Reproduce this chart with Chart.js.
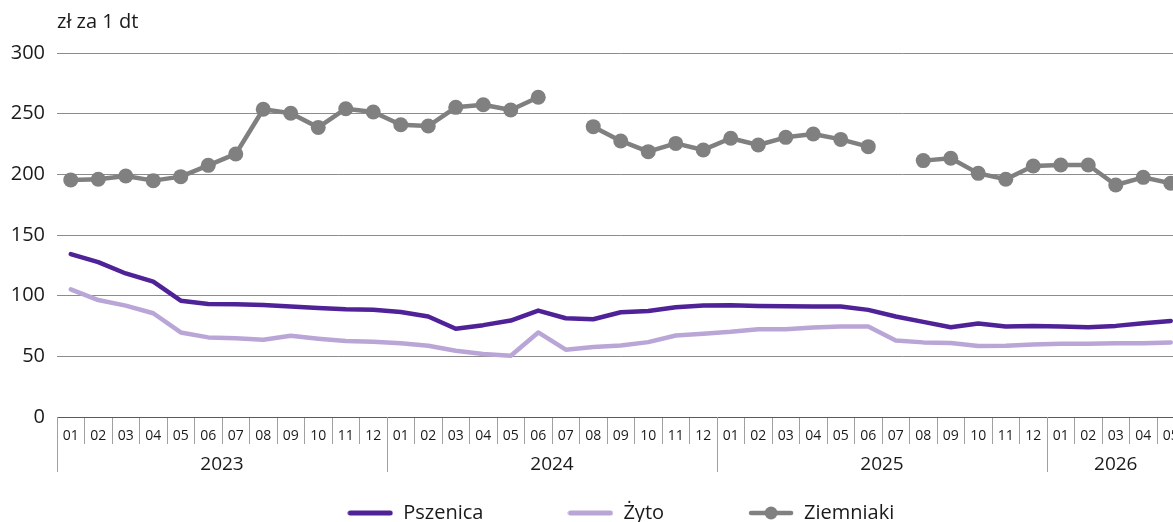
<!DOCTYPE html>
<html><head><meta charset="utf-8">
<script src="https://cdn.jsdelivr.net/npm/chart.js@4.4.1/dist/chart.umd.min.js"></script>
<style>
html,body{margin:0;padding:0;background:#fff;overflow:hidden;width:1173px;height:522px}
#wrap{position:relative;width:1240px;height:522px}
canvas{display:block}
</style></head>
<body><div id="wrap"><canvas id="c" width="1240" height="522"></canvas></div>
<script>
// ---- data ----
const yearLabels = ['2023', '2024', '2025', '2026'];
const monthLabels = [
  '01','02','03','04','05','06','07','08','09','10','11','12',
  '01','02','03','04','05','06','07','08','09','10','11','12',
  '01','02','03','04','05','06','07','08','09','10','11','12',
  '01','02','03','04','05'
];
const monthsPerYear = [12, 12, 12, 5];
const pszenica = [
  134.2,127.6,118.3,111.5,95.9,93.2,92.9,92.3,91.0,89.9,88.8,88.3,
  86.6,82.8,72.7,75.7,79.5,87.7,81.4,80.6,86.3,87.4,90.4,91.8,
  92.1,91.5,91.3,91.0,91.0,88.3,82.8,78.4,74.0,77.0,74.6,75.1,
  74.6,74.0,75.1,77.3,79.2
];
const zyto = [
  105.2,96.4,91.8,85.5,69.7,65.6,65.0,63.7,66.9,64.5,62.6,62.0,
  60.7,58.7,54.6,51.9,50.5,69.7,55.5,57.7,59.0,61.7,67.2,68.6,
  70.2,72.4,72.4,73.8,74.6,74.6,63.1,61.5,60.9,58.5,58.7,59.8,
  60.4,60.4,60.7,60.7,61.5
];
const ziemniaki = [
  195.4,195.9,198.6,194.8,198.1,207.4,216.8,253.6,250.3,238.7,254.1,251.4,
  240.9,239.8,255.2,257.4,253.0,263.5,null,239.3,227.5,218.7,225.5,220.1,
  229.7,224.2,230.5,233.2,228.8,222.8,null,211.3,213.2,200.8,195.9,206.9,
  207.7,207.7,191.2,197.5,192.6
];
const seriesNames = ['Pszenica', 'Żyto', 'Ziemniaki'];
const unitLabel = 'zł za 1 dt';

// ---- styles ----
const FONT = '"Open Sans", "Noto Sans", sans-serif';
const TXT = '#1a1a1a';
const colors = ['#4f2297', '#b9a6d7', '#808080'];

function legendImg(color, withDot) {
  const c = document.createElement('canvas');
  c.width = 46; c.height = 16;
  const g = c.getContext('2d');
  g.strokeStyle = color; g.lineWidth = withDot ? 4.5 : 5; g.lineCap = 'round';
  g.beginPath(); g.moveTo(3, 8); g.lineTo(43, 8); g.stroke();
  if (withDot) { g.fillStyle = color; g.beginPath(); g.arc(23, 8, 6.5, 0, Math.PI * 2); g.fill(); }
  return c;
}
const legendImgs = [legendImg(colors[0], false), legendImg(colors[1], false), legendImg(colors[2], true)];

const categoryAxisPlugin = {
  id: 'categoryAxis',
  afterDraw(chart) {
    const x = chart.scales.x, ctx = chart.ctx;
    const half = (x.getPixelForValue(1) - x.getPixelForValue(0)) / 2;
    const top = chart.chartArea.bottom;
    ctx.save();
    ctx.fillStyle = TXT;
    ctx.textAlign = 'center'; ctx.textBaseline = 'middle';
    // month labels
    ctx.font = '14px ' + FONT;
    monthLabels.forEach((m, i) => {
      ctx.fillText(m, x.getPixelForValue(i), top + 19);
    });
    // year separators and labels
    let idx = 0;
    ctx.strokeStyle = '#a0a0a0'; ctx.lineWidth = 1;
    ctx.font = '19px ' + FONT;
    yearLabels.forEach((yl, i) => {
      const n = monthsPerYear[i];
      const left = x.getPixelForValue(idx) - half;
      const right = x.getPixelForValue(idx + n - 1) + half;
      const lx = Math.round(left) + 0.5;
      ctx.beginPath(); ctx.moveTo(lx, top); ctx.lineTo(lx, top + 55); ctx.stroke();
      ctx.fillText(yl, (left + right) / 2, top + 48);
      idx += n;
    });
    ctx.restore();
  }
};

new Chart(document.getElementById('c'), {
  type: 'line',
  data: {
    labels: monthLabels,
    datasets: [
      { label: seriesNames[0], data: pszenica, borderColor: colors[0], backgroundColor: colors[0],
        borderWidth: 4.5, pointRadius: 0, pointHoverRadius: 0, borderJoinStyle: 'round', borderCapStyle: 'round' },
      { label: seriesNames[1], data: zyto, borderColor: colors[1], backgroundColor: colors[1],
        borderWidth: 4.5, pointRadius: 0, pointHoverRadius: 0, borderJoinStyle: 'round', borderCapStyle: 'round' },
      { label: seriesNames[2], data: ziemniaki, borderColor: colors[2], backgroundColor: colors[2],
        borderWidth: 4.5, pointRadius: 7.5, pointHoverRadius: 7.5, pointBorderWidth: 0, borderJoinStyle: 'round' }
    ]
  },
  options: {
    responsive: false,
    animation: false,
    layout: { padding: { left: 0, right: 55.5, top: 0, bottom: 0 } },
    scales: {
      x: {
        offset: true,
        grid: { offset: true, drawOnChartArea: false, drawTicks: true, tickLength: 27, color: '#a0a0a0' },
        border: { display: true, color: '#5a5a5a', width: 1 },
        ticks: { display: false, autoSkip: false, maxRotation: 0 },
        afterFit(axis) { axis.height = 2; }
      },
      y: {
        min: 0, max: 300,
        ticks: { stepSize: 50, padding: 12, color: TXT, font: { family: FONT, size: 20 } },
        grid: { drawTicks: false, color: '#8c8c8c', lineWidth: 1 },
        border: { display: false },
        afterFit(axis) { axis.width = 57; }
      }
    },
    plugins: {
      title: {
        display: true, text: unitLabel, align: 'start', fullSize: false, color: TXT,
        font: { family: FONT, size: 20, weight: 'normal' }, padding: { top: 10, bottom: 19 }
      },
      legend: {
        position: 'bottom', align: 'center', fullSize: false, maxHeight: 103,
        labels: {
          usePointStyle: true, pointStyleWidth: 46, padding: 84, color: TXT,
          font: { family: FONT, size: 20 },
          generateLabels(chart) {
            const items = Chart.defaults.plugins.legend.labels.generateLabels(chart);
            items.forEach((it, i) => { it.pointStyle = legendImgs[i]; });
            return items;
          }
        }
      },
      tooltip: { enabled: false }
    }
  },
  plugins: [categoryAxisPlugin]
});
</script>
</body></html>
